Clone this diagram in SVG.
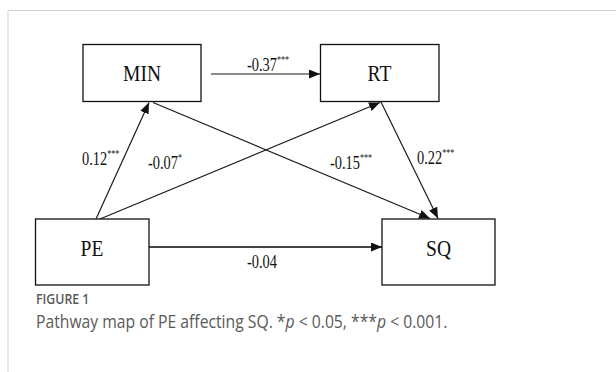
<svg xmlns="http://www.w3.org/2000/svg" width="616" height="372" viewBox="0 0 616 372">
  <defs>
    <marker id="ah" markerUnits="userSpaceOnUse" markerWidth="12" markerHeight="10" refX="11" refY="4.5" orient="auto">
      <path d="M0,0 L11,4.5 L0,9 z" fill="#111"/>
    </marker>
    <style>
      .box { fill: #fff; stroke: #111; stroke-width: 1.3; }
      .node { font-family: "Liberation Serif", "Times New Roman", serif; font-size: 23px; fill: #111; text-anchor: middle; }
      .lab { font-family: "Liberation Serif", "Times New Roman", serif; font-size: 18px; fill: #111; }
      .sup { font-size: 10px; }
      .edge { stroke: #1a1a1a; stroke-width: 1.2; fill: none; marker-end: url(#ah); }
      .frame { stroke: #cfcfcf; stroke-width: 1; fill: none; }
      .fig { font-family: "Open Sans", "Noto Sans", sans-serif; font-size: 14.5px; font-weight: 600; fill: #595959; }
      .cap { font-family: "Open Sans", "Noto Sans", sans-serif; font-size: 18.5px; fill: #595959; }
    </style>
  </defs>
  <rect width="616" height="372" fill="#fff"/>
  <path class="frame" d="M8,372 V10.5 H616"/>

  <g id="connectors">
    <line class="edge" x1="211" y1="74" x2="320" y2="74"/>
    <line class="edge" style="stroke:#444;stroke-width:1.8" x1="149" y1="247" x2="382" y2="247"/>
    <line class="edge" x1="96" y1="219" x2="149" y2="102.5"/>
    <line class="edge" x1="100" y1="219" x2="380" y2="102.5"/>
    <line class="edge" x1="153" y1="102.5" x2="430" y2="218.5"/>
    <line class="edge" x1="381" y1="102" x2="438" y2="218.5"/>
  </g>

  <g id="edge-labels">
    <text class="lab" transform="translate(247,71) scale(0.8,1)">-0.37<tspan class="sup" dy="-8">***</tspan></text>
    <text class="lab" transform="translate(82,165) scale(0.8,1)">0.12<tspan class="sup" dy="-8">***</tspan></text>
    <text class="lab" transform="translate(148,169) scale(0.8,1)">-0.07<tspan class="sup" dy="-8">*</tspan></text>
    <text class="lab" transform="translate(330,169) scale(0.8,1)">-0.15<tspan class="sup" dy="-8">***</tspan></text>
    <text class="lab" transform="translate(417,164) scale(0.8,1)">0.22<tspan class="sup" dy="-8">***</tspan></text>
    <text class="lab" transform="translate(247,268) scale(0.8,1)">-0.04</text>
  </g>

  <g id="MIN">
    <rect class="box" x="83" y="44.5" width="118" height="57"/>
    <text class="node" transform="translate(142,81) scale(0.85,1)">MIN</text>
  </g>
  <g id="RT">
    <rect class="box" x="320.5" y="44.5" width="118.5" height="57"/>
    <text class="node" transform="translate(379.5,81) scale(0.85,1)">RT</text>
  </g>
  <g id="PE">
    <rect class="box" x="35.5" y="219" width="113.5" height="66"/>
    <text class="node" transform="translate(92,256) scale(0.85,1)">PE</text>
  </g>
  <g id="SQ">
    <rect class="box" x="382" y="219" width="113" height="66"/>
    <text class="node" transform="translate(438.5,256) scale(0.85,1)">SQ</text>
  </g>

  <g id="caption">
    <text class="fig" transform="translate(36,304) scale(0.85,1)">FIGURE 1</text>
    <text class="cap" transform="translate(36,328) scale(0.85,1)">Pathway map of PE affecting SQ. *<tspan font-style="italic">p</tspan> &lt; 0.05, ***<tspan font-style="italic">p</tspan> &lt; 0.001.</text>
  </g>
</svg>
